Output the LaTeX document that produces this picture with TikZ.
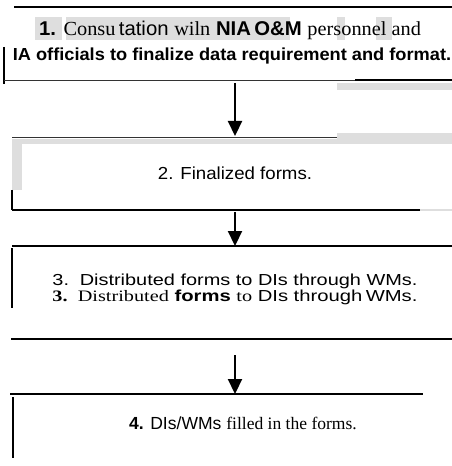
\documentclass[tikz,border=0pt]{standalone}
\usepackage{fontspec}
\setmainfont{Liberation Sans}
\newfontfamily\serf{Liberation Serif}
\usetikzlibrary{arrows.meta}
\begin{document}
\begin{tikzpicture}[x=1bp,y=-1bp,
  edge/.style={line width=1.4bp,black},
  thinedge/.style={line width=0.9bp,black!80},
  flow/.style={line width=2.2bp,-{Triangle[length=15bp,width=14bp]}},
  shade/.style={fill=black!13,draw=none},
  lbl/.style={inner sep=0pt,anchor=center}]
\useasboundingbox (0,0) rectangle (452,466);
% ---- shaded scan artefacts
\fill[shade] (35,17) rectangle (62,40);
\fill[shade] (66,17) rectangle (290,40);
\fill[shade] (337,17) rectangle (345,40);
\fill[shade] (376,17) rectangle (392,40);
\fill[shade] (337,83) rectangle (452,90);
\fill[shade] (337,133) rectangle (452,143);
\fill[shade] (12,139) rectangle (452,144);
\fill[shade] (12,139) rectangle (22,190);
\fill[shade] (420,209) rectangle (452,211);
% ---- box 1
\draw[edge] (14,7) -- (452,7);
\draw[edge] (4,47) -- (4,84);
\draw[thinedge] (4,80) -- (355,80);
\draw[edge] (355,80) -- (452,80);
\node[lbl,font=\fontsize{20}{21}\selectfont] (t1a) at (230,30) {\scalebox{1.02}[1]{{\bfseries 1.} {\serf Consu}\,tation {\serf wiln} {\bfseries NIA\,O\&M} {\serf personnel and}}};
\node[lbl,font=\fontsize{17.5}{19}\selectfont\bfseries] (t1b) at (232,56) {\scalebox{1.045}[1]{IA officials to finalize data requirement and format.}};
% ---- box 2
\draw[thinedge] (12,137) -- (337,137);
\draw[edge] (12,190) -- (12,210);
\draw[edge] (12,210) -- (420,210);
\node[lbl,font=\fontsize{17.5}{19}\selectfont] (t2) at (235,173) {\scalebox{1.07}[1]{2. Finalized forms.}};
% ---- box 3
\draw[edge] (12,246) -- (452,246);
\draw[edge] (12,248) -- (12,308);
\node[lbl,font=\fontsize{16}{16}\selectfont] (t3a) at (235,281) {\scalebox{1.25}[1]{3.\, Distributed forms to DIs through WMs.}};
\node[lbl,font=\fontsize{16}{16}\selectfont] (t3b) at (235,297) {\scalebox{1.27}[1]{{\serf\bfseries 3.\, }{\serf Distributed} {\bfseries forms} {\serf to} DIs through\,WMs.}};
\draw[edge] (11,339) -- (452,339);
% ---- box 4
\draw[edge] (10,394) -- (423,394);
\draw[line width=2.5bp] (13,397) -- (13,458);
\node[lbl,font=\fontsize{17.6}{18}\selectfont] (t4) at (243,423) {{\bfseries 4.} DIs/WMs {\serf filled in the forms.}};
% ---- connectors
\coordinate (a1s) at (235,83);
\coordinate (a1e) at (235,136);
\coordinate (a2s) at (235,212);
\coordinate (a2e) at (235,246);
\coordinate (a3s) at (235,355);
\coordinate (a3e) at (235,394);
\draw[flow] (a1s) -- (a1e);
\draw[flow] (a2s) -- (a2e);
\draw[flow] (a3s) -- (a3e);
\end{tikzpicture}
\end{document}
